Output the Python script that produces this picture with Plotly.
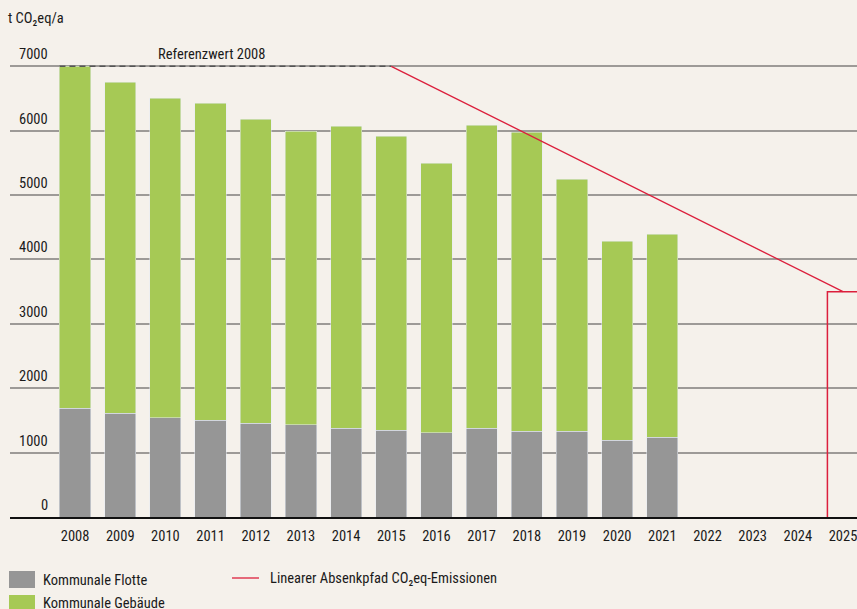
import plotly.graph_objects as go

years = [2008, 2009, 2010, 2011, 2012, 2013, 2014, 2015, 2016, 2017, 2018, 2019, 2020, 2021]
flotte = [1690, 1615, 1540, 1505, 1460, 1430, 1380, 1350, 1305, 1380, 1335, 1335, 1195, 1240]
total = [7000, 6750, 6505, 6425, 6175, 5990, 6070, 5915, 5495, 6085, 5975, 5245, 4285, 4390]
gebaeude = [t - f for t, f in zip(total, flotte)]

all_years = list(range(2008, 2026))
y_ticks = [0, 1000, 2000, 3000, 4000, 5000, 6000, 7000]

ref_value = 7000          # Referenzwert 2008
path_years = [2015, 2025]
path_values = [7000, 3500]
target_year = 2025
target_value = 3500

BG = "#f5f1eb"
GRAY = "#969696"
GREEN = "#a6c955"
RED = "#dc1f3c"
TXT = "#1a1a1a"
FONT = "Roboto Condensed, Liberation Sans Narrow, sans-serif"
FS = 14.5
BW = 0.69

W, H = 857, 609
ML, MR, MT, MB = 10, 0, 47, 92

def px(x):
    return (x - ML) / (W - ML - MR)

def py(y):
    return (H - MB - y) / (H - MT - MB)

fig = go.Figure()
fig.add_trace(go.Bar(x=years, y=flotte, marker_color=GRAY, width=BW, name="Kommunale Flotte"))
fig.add_trace(go.Bar(x=years, y=gebaeude, marker_color=GREEN, width=BW, name="Kommunale Gebäude"))
# target outline for 2025
tl, tr = target_year - BW / 2, target_year + BW / 2
fig.add_trace(go.Scatter(x=[tl, tl, tr, tr], y=[0, target_value, target_value, 0],
                         mode="lines", line=dict(color=RED, width=1.5), name="Ziel"))
fig.add_trace(go.Scatter(x=[years[0] - BW / 2, path_years[0]], y=[ref_value, ref_value],
                         mode="lines", line=dict(color="#555555", width=1.5, dash="6px,4px"),
                         cliponaxis=False))
fig.add_trace(go.Scatter(x=path_years, y=path_values, mode="lines",
                         line=dict(color=RED, width=1.3), cliponaxis=False))

annotations = []
for v in y_ticks:
    annotations.append(dict(xref="paper", x=0, xshift=40, xanchor="right",
                            yref="y", y=v, yanchor="bottom", yshift=1,
                            text=str(v), showarrow=False,
                            font=dict(family=FONT, size=FS, color=TXT)))
annotations.append(dict(xref="x", x=2011.03, yref="y", y=ref_value, yanchor="bottom", yshift=1,
                        text="Referenzwert 2008", showarrow=False,
                        font=dict(family=FONT, size=FS, color=TXT)))
annotations.append(dict(xref="paper", x=px(6), xanchor="left", yref="paper", y=py(18),
                        yanchor="middle", text="t CO₂eq/a", showarrow=False,
                        font=dict(family=FONT, size=FS, color=TXT)))
# legend
leg = [("Kommunale Flotte", 41, 580), ("Kommunale Gebäude", 41, 603),
       ("Linearer Absenkpfad CO₂eq-Emissionen", 268, 578)]
for t, x, y in leg:
    annotations.append(dict(xref="paper", x=px(x), xanchor="left", yref="paper", y=py(y),
                            yanchor="middle", text=t, showarrow=False,
                            font=dict(family=FONT, size=FS, color=TXT)))

shapes = [
    dict(type="rect", xref="paper", yref="paper", x0=px(9), x1=px(35), y0=py(571), y1=py(588),
         fillcolor=GRAY, line=dict(width=0)),
    dict(type="rect", xref="paper", yref="paper", x0=px(9), x1=px(35), y0=py(595), y1=py(612),
         fillcolor=GREEN, line=dict(width=0)),
    dict(type="line", xref="paper", yref="paper", x0=px(232), x1=px(259), y0=py(578), y1=py(578),
         line=dict(color=RED, width=1.3)),
]

fig.update_layout(
    width=W, height=H, margin=dict(l=ML, r=MR, t=MT, b=MB),
    paper_bgcolor=BG, plot_bgcolor=BG,
    barmode="stack", showlegend=False,
    font=dict(family=FONT, size=FS, color=TXT),
    annotations=annotations, shapes=shapes,
    xaxis=dict(range=[2006.56, 2025.31], tickvals=all_years, ticktext=[str(y) for y in all_years],
               showgrid=False, zeroline=False, showline=True, linecolor="#111111", linewidth=2,
               layer="below traces", ticklabeloverflow="allow",
               ticks="outside", ticklen=5, tickcolor="rgba(0,0,0,0)",
               tickfont=dict(family=FONT, size=FS, color=TXT)),
    yaxis=dict(range=[0, 7300], tickvals=y_ticks, showticklabels=False,
               showgrid=True, gridcolor="#9d9a97", gridwidth=1.5, zeroline=False),
)

fig.write_html("out.html", config={"displayModeBar": False},
               post_script="document.body.style.margin='0';document.body.style.overflow='hidden';")
